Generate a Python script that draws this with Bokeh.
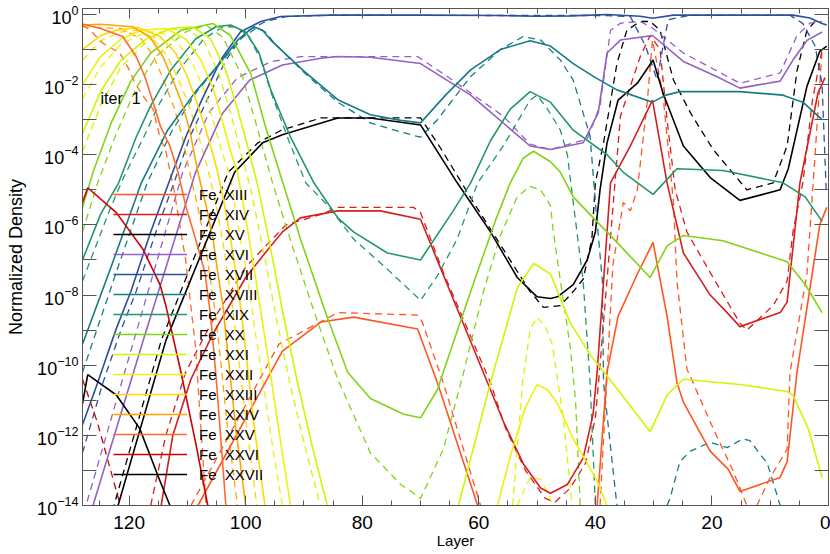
import math
from bokeh.plotting import figure
from bokeh.models import (Range1d, LogAxis, LinearAxis, FixedTicker, SingleIntervalTicker,
                          Legend, LegendItem, Label, CustomJSTickFormatter)
from bokeh.embed import file_html
from bokeh.resources import INLINE

nan = float("nan")

ions = ["XIII", "XIV", "XV", "XVI", "XVII", "XVIII", "XIX", "XX",
        "XXI", "XXII", "XXIII", "XXIV", "XXV", "XXVI", "XXVII"]
colors = ["#ff5522", "#d61e1e", "#000000", "#9460c4", "#2c4e9e", "#147c84", "#23966a", "#80d414",
          "#d2f500", "#f0f00a", "#ffd800", "#ffa500", "#ff6a2a", "#cc0000", "#000000"]

# layer / log10(normalized density); solid = iter 1, dashed = previous
XIII_L = [108.4, 108.2, 93.7, 87.1, 81.5, 70.5, 67.1, 60.2, nan, 40.0, 39.7, 38.0, 36.1, 32.8, 30.1, 27.7, 26.0, 24.9, 20.3, 17.2, 15.2, 8.3, 7.1, 5.4, 1.5, 0.3]
XIII_V = [-14.5, -14.0, -9.6, -8.77, -8.63, -8.97, -10.5, -14.0, nan, -14.5, -14.0, -10.2, -8.6, -7.4, -6.5, -8.6, -10.5, -11.05, -12.45, -12.97, -13.6, -13.2, -12.75, -10.2, -6.0, -5.5]
XIII_dL = [109.4, 94.3, 84.2, 70.5, 69.7, 66.1, 59.7, nan, 39.2, 37.0, 35.2, 34.0, 32.8, 31.1, 30.2, 28.4, 26.6, 26.0, 24.3, 19.8, 16.4, 14.0, nan, 12.3, 10.0, 7.1, 6.6, 3.7, 2.3, 1.1]
XIII_dV = [-14.0, -9.4, -8.5, -8.57, -8.77, -10.5, -14.0, nan, -14.0, -7.15, -5.36, -5.6, -5.0, -2.5, -0.73, -2.3, -5.36, -7.6, -10.1, -11.8, -13.0, -14.0, nan, -14.0, -13.2, -12.4, -10.2, -7.4, -4.0, -1.0]

XIV_L = [115.1, 114.5, 112.5, 109.4, 105.6, 100.0, 95.7, 93.7, 90.6, 84.2, 76.9, 70.0, 58.5, 55.8, 52.4, 49.4, 47.7, 44.8, 42.1, 40.4, 39.7, 37.4, 34.0, 30.2, 27.7, 24.9, 20.3, 17.4, 15.2, 8.3, 7.1, 4.9, 1.8, 0.6]
XIV_V = [-14.5, -14.0, -12.0, -10.4, -9.1, -7.5, -6.6, -6.2, -5.8, -5.6, -5.6, -5.84, -10.5, -11.6, -12.8, -13.5, -13.65, -13.4, -12.65, -11.4, -10.2, -4.8, -3.75, -2.44, -4.8, -6.8, -8.0, -8.5, -8.9, -8.5, -8.2, -4.8, -2.24, -1.8]
XIV_dL = [116.3, 113.7, 110.3, 105.9, 100.0, 93.1, 87.1, 84.2, 71.2, 70.0, 66.1, 58.0, 55.4, 52.0, 48.6, 46.9, 44.3, 41.7, 40.0, 39.2, 35.7, 32.3, 30.6, 28.9, 27.7, 26.3, 24.3, 19.8, 15.2, 14.0, 9.5, 7.1, 6.1, 4.4, 2.8, 1.1]
XIV_dV = [-14.0, -12.0, -10.2, -8.8, -7.2, -6.0, -5.7, -5.5, -5.5, -5.65, -7.35, -10.5, -11.8, -13.0, -13.8, -13.9, -13.5, -12.8, -11.5, -10.0, -2.9, -1.2, -0.6, -1.0, -3.0, -5.0, -6.2, -7.5, -8.8, -9.0, -8.3, -7.6, -6.2, -4.8, -2.5, -1.0]

XV_L = [122.4, 121.9, 113.7, 101.9, 97.1, 93.7, 84.2, 78.6, 70.0, 63.7, 61.4, 58.0, 53.4, 50.0, 47.7, 46.5, 43.8, 41.4, 40.0, 39.2, 38.0, 36.1, 32.8, 30.1, 28.4, 24.9, 20.3, 15.2, 8.3, 6.9, 3.7, 1.5, 0.3]
XV_V = [-14.5, -14.0, -9.3, -4.5, -3.66, -3.43, -2.95, -2.95, -3.15, -4.8, -5.36, -6.2, -7.5, -8.05, -8.1, -8.05, -7.7, -7.0, -6.2, -5.0, -3.66, -2.44, -1.96, -1.3, -2.24, -3.75, -4.65, -5.3, -5.0, -4.4, -2.05, -1.05, -0.9]
XV_dL = [123.1, 122.6, 114.5, 103.0, 97.9, 93.9, 87.1, 79.8, 70.0, 66.6, 60.9, 51.2, 48.9, 46.0, 43.8, 42.1, 40.6, 40.0, 38.6, 36.3, 34.6, 32.3, 30.6, 28.9, 26.6, 23.7, 19.8, 14.0, 9.5, 7.1, 5.4, 3.7, 2.3]
XV_dV = [-14.5, -14.0, -9.3, -4.5, -3.66, -3.3, -2.95, -2.95, -2.95, -3.8, -5.36, -7.9, -8.35, -8.3, -7.9, -7.55, -6.4, -4.8, -3.66, -1.4, -0.45, -0.2, -0.2, -0.45, -1.87, -2.8, -3.85, -5.0, -4.8, -3.75, -1.6, -0.45, -0.2]

XVI_L = [127.3, 126.2, 117.6, 108.6, 103.9, 99.3, 93.7, 87.1, 84.2, 78.6, 70.0, 61.4, 51.2, 47.7, 42.1, 39.5, 38.0, 35.7, 30.2, 24.9, 19.2, 15.2, 8.3, 6.1, 3.7, 1.1]
XVI_V = [-14.3, -14.0, -9.3, -4.5, -2.8, -1.87, -1.44, -1.25, -1.2, -1.22, -1.4, -2.3, -3.75, -3.85, -3.66, -2.8, -1.1, -0.73, -0.6, -1.34, -1.77, -2.1, -1.9, -1.3, -0.74, -0.5]
XVI_dL = [128.0, 127.4, 119.2, 110.8, 106.3, 101.4, 95.7, 90.6, 84.2, 70.5, 65.4, 55.8, 51.2, 47.7, 41.4, 39.2, 37.4, 35.7, 32.3, 30.1, 24.9, 15.2, 8.3, 5.4, 3.2, 1.1]
XVI_dV = [-14.2, -14.0, -9.3, -4.5, -2.8, -1.8, -1.35, -1.2, -1.2, -1.2, -1.77, -2.9, -3.7, -3.85, -3.55, -2.6, -0.45, -0.25, -0.2, -0.4, -1.1, -1.96, -1.67, -0.6, -0.25, -0.2]

XVII_L = [128.0, 125.4, 122.3, 119.7, 116.3, 113.2, 110.3, 107.7, 104.3, 100.9, 97.4, 94.0, 85.4, 70.0, 56.3, 50.2, 44.3, 38.0, 32.3, 30.2, 26.6, 6.1, 3.2, 1.1, 0.3]
XVII_V = [-11.7, -10.5, -9.0, -7.9, -6.2, -4.8, -3.5, -2.5, -1.3, -0.5, -0.2, -0.06, -0.02, -0.02, -0.03, -0.05, -0.04, 0.0, -0.05, -0.11, -0.02, -0.02, -0.1, -0.26, -0.3]
XVII_dL = [128.0, 124.5, 121.4, 118.8, 115.4, 112.3, 109.6, 106.8, 103.4, 100.0, 96.6, 93.1, 85.4, 56.3, 39.2, 34.0, 31.4, 29.4, 28.5, 27.5, 23.7, 6.6, 4.4, 2.3, 1.1, 0.4]
XVII_dV = [-12.5, -10.5, -9.0, -7.9, -6.2, -4.8, -3.5, -2.5, -1.3, -0.5, -0.2, -0.06, -0.02, -0.03, -0.03, -0.06, -0.9, -1.87, -1.0, -0.15, -0.02, -0.02, -0.26, -0.9, -2.0, -5.0]

XVIII_L = [128.0, 123.1, 117.9, 113.4, 108.6, 104.5, 101.2, 98.6, 97.1, 95.7, 90.1, 84.2, 78.6, 73.4, 70.0, 65.7, 61.4, 56.3, 51.2, 47.7, 43.8, 40.0, 36.3, 30.2, 27.9, 25.5, 15.2, 7.8, 4.4, 1.1]
XVIII_V = [-9.4, -7.2, -4.8, -3.3, -2.2, -1.4, -0.7, -0.35, -0.45, -0.73, -1.6, -2.43, -2.86, -3.02, -3.09, -2.3, -1.58, -1.0, -0.75, -0.9, -1.4, -1.8, -2.15, -2.5, -2.3, -2.2, -2.2, -2.3, -2.5, -3.0]
XVIII_dL = [128.0, 121.9, 116.9, 112.6, 108.4, 104.4, 100.9, 98.1, 96.6, 95.2, 89.7, 84.2, 78.6, 73.4, 70.0, 67.1, 61.4, 56.3, 52.4, 49.4, 46.0, 43.8, 40.9, 40.0, 38.8, 38.6, 36.3, nan, 27.7, 27.2, 25.5, 23.7, 20.3, 17.4, 14.7, 13.5, 10.5, 9.2, 8.3]
XVIII_dV = [-10.2, -7.2, -4.8, -3.3, -2.2, -1.4, -0.7, -0.38, -0.5, -0.8, -1.7, -2.5, -3.09, -3.35, -3.5, -3.0, -1.77, -1.0, -0.63, -0.73, -1.3, -1.87, -3.47, -5.36, -7.6, -10.5, -14.0, nan, -14.0, -13.8, -12.75, -12.45, -12.2, -12.35, -12.1, -12.15, -12.8, -13.5, -14.0]

XIX_L = [128.0, 124.9, 121.8, 118.8, 116.3, 112.9, 108.6, 105.1, 102.6, 100.0, 97.7, 95.7, 92.3, 88.3, 84.2, 81.5, 75.7, 70.0, 64.4, 61.4, 58.0, 54.6, 51.2, 47.7, 43.8, 38.0, 35.2, 30.1, 26.0, 18.1, 7.8, 4.0, 1.1]
XIX_V = [-7.0, -5.7, -4.8, -3.5, -2.6, -1.6, -0.7, -0.35, -0.3, -0.5, -1.1, -2.15, -3.5, -4.8, -5.8, -6.2, -6.8, -7.0, -5.6, -4.8, -3.6, -2.7, -2.2, -2.5, -3.3, -4.0, -4.5, -5.13, -4.4, -4.45, -4.8, -5.2, -5.9]
XIX_dL = [128.0, 123.4, 121.1, 117.5, 115.0, 111.5, 107.2, 103.9, 101.7, 99.5, 97.4, 95.7, 92.6, 89.7, 85.9, 81.5, 75.7, 70.0, 67.1, 63.7, 60.2, 55.8, 51.2, 50.0, 48.2, 46.0, 44.8, 43.8, 42.1, 40.9, 40.0]
XIX_dV = [-7.6, -5.6, -4.7, -3.5, -2.6, -1.6, -0.7, -0.35, -0.35, -0.6, -1.3, -2.2, -3.6, -4.8, -5.45, -6.4, -7.26, -8.15, -7.45, -6.4, -4.8, -3.75, -2.44, -2.3, -2.7, -3.3, -4.0, -5.36, -7.6, -10.5, -14.0]

XX_L = [128.0, 126.2, 123.1, 119.7, 116.3, 111.1, 105.6, 102.6, 99.1, 96.6, 94.0, 90.6, 86.3, 82.5, 78.6, 72.9, 70.0, 67.1, 66.1, 61.4, 57.2, 54.6, 52.4, 50.6, 47.7, 46.0, 43.8, 39.2, 38.0, 30.6, 27.7, 24.9, 18.1, 7.1, 4.0, 1.1]
XX_V = [-5.5, -4.5, -3.1, -1.9, -1.1, -0.45, -0.26, -0.6, -1.7, -3.2, -4.6, -6.4, -8.5, -10.2, -10.95, -11.4, -11.5, -10.7, -10.2, -7.9, -5.9, -4.8, -4.1, -3.9, -4.2, -4.5, -5.2, -6.0, -6.2, -7.5, -6.6, -6.3, -6.45, -7.05, -7.7, -8.5]
XX_dL = [128.0, 125.4, 122.2, 118.8, 115.4, 110.3, 106.8, 103.9, 100.5, 97.9, 95.4, 92.0, 88.0, 84.2, 78.6, 73.4, 71.2, 70.0, 66.1, 62.6, 59.2, 56.3, 53.4, 51.2, 49.4, 47.7, 47.2, 46.0, 44.3, 43.4, 42.6]
XX_dV = [-6.2, -4.8, -3.4, -2.1, -1.2, -0.5, -0.3, -0.65, -1.8, -3.3, -4.8, -6.6, -8.6, -10.4, -12.5, -13.4, -13.65, -13.8, -12.4, -10.2, -7.9, -6.3, -5.2, -4.9, -5.0, -5.45, -6.2, -7.6, -9.5, -11.0, -14.0]

XXI_L = [128.0, 124.9, 121.4, 117.1, 112.9, 109.1, 106.0, 103.4, 101.4, 99.6, 97.9, 95.7, 93.5, 91.1, 88.6, 86.0, nan, 63.5, 58.0, 53.4, 50.6, 47.7, 44.3, 40.9, 38.0, 30.6, 27.7, 24.9, 15.2, 7.1, 6.1, 3.5, 1.1]
XXI_V = [-3.4, -2.2, -1.3, -0.7, -0.4, -0.35, -0.7, -1.6, -2.7, -3.8, -4.9, -6.7, -8.6, -10.5, -12.3, -14.0, nan, -14.0, -10.5, -7.8, -7.1, -7.4, -8.8, -9.7, -10.3, -11.9, -10.85, -10.4, -10.55, -10.75, -10.85, -11.8, -13.2]
XXI_dL = [128.0, 124.9, 121.4, 117.1, 113.7, 110.3, 107.2, 104.6, 102.6, 100.9, 99.1, 96.9, 94.7, 92.3, 89.7, 87.2, nan, 54.2, 52.5, 51.2, 50.0, 48.6, 47.4, 45.5, 44.0]
XXI_dV = [-3.9, -2.6, -1.5, -0.8, -0.45, -0.4, -0.75, -1.7, -2.8, -3.9, -5.0, -6.8, -8.7, -10.6, -12.4, -14.0, nan, -14.0, -10.5, -9.0, -8.63, -8.9, -9.4, -11.5, -14.0]

XXII_L = [128.0, 124.9, 121.4, 117.9, 113.7, 110.3, 107.7, 105.6, 103.9, 102.6, 101.4, 99.8, 98.3, 97.1, 95.7, 94.0, 92.3, nan, 56.8, 54.6, 52.0, 50.0, 48.2, 46.5, 43.8, 39.7, 38.0]
XXII_V = [-2.0, -1.2, -0.7, -0.45, -0.4, -0.7, -1.3, -2.1, -3.1, -3.9, -4.5, -6.0, -7.5, -8.8, -10.3, -12.2, -14.0, nan, -14.0, -12.6, -11.2, -10.55, -10.7, -11.1, -12.1, -13.3, -14.0]
XXII_dL = [128.0, 124.9, 121.4, 117.1, 114.5, 111.7, 109.1, 107.0, 105.3, 103.9, 102.7, 101.2, 99.6, 98.5, 97.1, 95.4, 93.7, nan, 53.4, 51.2, 49.4, 47.7, 46.8]
XXII_dV = [-2.4, -1.5, -0.85, -0.5, -0.5, -0.8, -1.4, -2.2, -3.2, -4.0, -4.6, -6.1, -7.6, -8.9, -10.4, -12.3, -14.0, nan, -14.0, -13.2, -13.25, -13.8, -14.5]

XXIII_L = [128.0, 124.9, 122.2, 118.5, 114.7, 112.0, 110.3, 108.6, 106.8, 105.6, 104.8, 103.6, 102.6, 101.7, 100.9, 100.2, 98.5, 96.7]
XXIII_V = [-1.0, -0.6, -0.45, -0.37, -0.63, -1.1, -1.67, -2.4, -3.3, -4.0, -4.5, -5.45, -6.4, -7.35, -8.3, -9.3, -11.8, -14.0]
XXIII_dL = [128.0, 124.9, 121.4, 118.8, 115.9, 113.4, 111.7, 109.9, 108.2, 107.0, 106.2, 105.0, 103.9, 103.1, 102.2, 101.5, 99.8, 98.1]
XXIII_dV = [-1.3, -0.75, -0.5, -0.45, -0.7, -1.2, -1.8, -2.5, -3.4, -4.1, -4.6, -5.5, -6.5, -7.4, -8.4, -9.4, -11.8, -14.0]

XXIV_L = [128.0, 124.9, 119.4, 116.5, 114.2, 112.5, 110.8, 109.6, 108.2, 106.8, 105.6, 104.8, 103.9, 103.3, 101.7, 100.0]
XXIV_V = [-0.3, -0.28, -0.35, -0.63, -1.2, -1.87, -2.6, -3.3, -4.5, -5.45, -6.4, -7.35, -8.3, -9.3, -11.8, -14.0]
XXIV_dL = [128.0, 121.4, 117.9, 115.8, 114.0, 112.2, 111.0, 109.6, 108.2, 107.0, 106.2, 105.3, 104.6, 103.1, 101.4]
XXIV_dV = [-0.35, -0.4, -0.7, -1.2, -1.9, -2.7, -3.4, -4.5, -5.5, -6.5, -7.4, -8.4, -9.4, -11.8, -14.0]

XXV_L = [128.0, 124.9, 121.1, 118.8, 117.3, 115.9, 114.6, 113.0, 111.6, 110.3, 108.6, 107.0, 106.0, 105.0, 103.4]
XXV_V = [-0.27, -0.4, -0.63, -1.2, -1.77, -2.5, -3.2, -3.75, -4.5, -5.45, -6.4, -7.35, -8.6, -10.5, -14.0]
XXV_dL = [128.0, 126.7, 124.5, 121.6, 119.9, 119.0, 117.3, 115.9, 114.7, 113.7, 112.3, 111.7, 110.3, 108.6, 106.8]
XXV_dV = [-0.3, -0.45, -0.82, -1.1, -1.6, -1.96, -2.4, -2.7, -3.5, -3.9, -5.0, -5.6, -7.0, -9.5, -14.0]

XXVI_L = [128.0, 127.1, 122.2, 117.6, 114.7, 113.7, 111.1, 108.6, 106.5]
XXVI_V = [-5.36, -4.94, -5.65, -6.7, -7.7, -8.3, -10.2, -12.2, -14.0]
XXVI_dL = [128.0, 125.5, 121.5]
XXVI_dV = [-10.4, -11.6, -14.0]

XXVII_L = [128.0, 127.1, 122.2, 118.2, 114.7, 113.0]
XXVII_V = [-11.1, -10.27, -10.85, -11.8, -13.3, -14.0]
XXVII_dL = []
XXVII_dV = []

x_tick_interval = 20
y_major = [1e0, 1e-2, 1e-4, 1e-6, 1e-8, 1e-10, 1e-12, 1e-14]
y_minor = [1e-1, 1e-3, 1e-5, 1e-7, 1e-9, 1e-11, 1e-13]

curves = [
    (XIII_L, XIII_V, XIII_dL, XIII_dV), (XIV_L, XIV_V, XIV_dL, XIV_dV),
    (XV_L, XV_V, XV_dL, XV_dV), (XVI_L, XVI_V, XVI_dL, XVI_dV),
    (XVII_L, XVII_V, XVII_dL, XVII_dV), (XVIII_L, XVIII_V, XVIII_dL, XVIII_dV),
    (XIX_L, XIX_V, XIX_dL, XIX_dV), (XX_L, XX_V, XX_dL, XX_dV),
    (XXI_L, XXI_V, XXI_dL, XXI_dV), (XXII_L, XXII_V, XXII_dL, XXII_dV),
    (XXIII_L, XXIII_V, XXIII_dL, XXIII_dV), (XXIV_L, XXIV_V, XXIV_dL, XXIV_dV),
    (XXV_L, XXV_V, XXV_dL, XXV_dV), (XXVI_L, XXVI_V, XXVI_dL, XXVI_dV),
    (XXVII_L, XXVII_V, XXVII_dL, XXVII_dV),
]


def dens(vals):
    return [10.0 ** v if v == v else nan for v in vals]


FONT = "Liberation Sans"
AX = "#555555"

p = figure(width=830, height=554, output_backend="svg", toolbar_location=None,
           x_range=Range1d(128, 0), y_range=Range1d(1e-14, 10 ** 0.17),
           y_axis_type="log", min_border_left=82, min_border_right=2,
           min_border_top=8, min_border_bottom=49)
p.xgrid.visible = False
p.ygrid.visible = False
p.outline_line_color = AX
p.background_fill_color = "white"
p.border_fill_color = "white"

xticker = SingleIntervalTicker(interval=x_tick_interval, num_minor_ticks=4)
yticker = FixedTicker(ticks=y_major, minor_ticks=y_minor)

xa = p.xaxis[0]
xa.ticker = xticker
ya = p.yaxis[0]
ya.ticker = yticker
for ax in (xa, ya):
    ax.axis_line_color = AX
    ax.major_tick_line_color = AX
    ax.minor_tick_line_color = AX
    ax.major_tick_out = 0
    ax.minor_tick_out = 0
    ax.major_label_text_font = FONT
    ax.major_label_text_color = "black"
    ax.axis_label_text_font = FONT
    ax.axis_label_text_font_style = "normal"
    ax.axis_label_text_color = "black"
xa.major_label_text_font_size = "19px"
ya.major_label_text_font_size = "18px"
xa.major_tick_in = 10
xa.minor_tick_in = 5
xa.major_label_standoff = 10
xa.axis_label = "Layer"
xa.axis_label_text_font_size = "15px"
xa.axis_label_standoff = 0
ya.major_tick_in = 14
ya.minor_tick_in = 14
ya.major_label_standoff = 4
ya.axis_label = "Normalized Density"
ya.axis_label_text_font_size = "18px"
ya.axis_label_standoff = 8

top = LinearAxis(ticker=xticker, formatter=CustomJSTickFormatter(code="return ''"),
                 major_tick_in=10, minor_tick_in=5, major_tick_out=0, minor_tick_out=0,
                 major_label_standoff=0, major_label_text_font_size="1px",
                 axis_line_color=AX, major_tick_line_color=AX, minor_tick_line_color=AX)
p.add_layout(top, "above")
right = LogAxis(ticker=yticker, formatter=CustomJSTickFormatter(code="return ''"),
                major_tick_in=14, minor_tick_in=14, major_tick_out=0, minor_tick_out=0,
                major_label_standoff=0, major_label_text_font_size="1px",
                axis_line_color=AX, major_tick_line_color=AX, minor_tick_line_color=AX)
p.add_layout(right, "right")

for (L, V, dL, dV), col in zip(curves, colors):
    if dL:
        p.line(dL, dens(dV), line_color=col, line_width=1.3, line_dash="7 5")

items = []
for (L, V, dL, dV), col, ion in zip(curves, colors, ions):
    r = p.line(L, dens(V), line_color=col, line_width=1.6)
    items.append(LegendItem(label="Fe\u00a0\u00a0" + ion, renderers=[r]))

leg = Legend(items=items, location=(31, 22), glyph_width=74, glyph_height=18,
             label_height=18, spacing=2, padding=0, margin=0, label_standoff=12,
             label_text_font=FONT, label_text_font_size="15px", label_text_color="black",
             background_fill_alpha=0, border_line_alpha=0)
p.add_layout(leg, "center")

p.add_layout(Label(x=124.9, y=10 ** -2.41, text="iter\u00a0\u00a01", text_baseline="middle",
                   text_font=FONT, text_font_size="16px", text_color="black"))

open("out.html", "w").write(file_html(p, INLINE))
